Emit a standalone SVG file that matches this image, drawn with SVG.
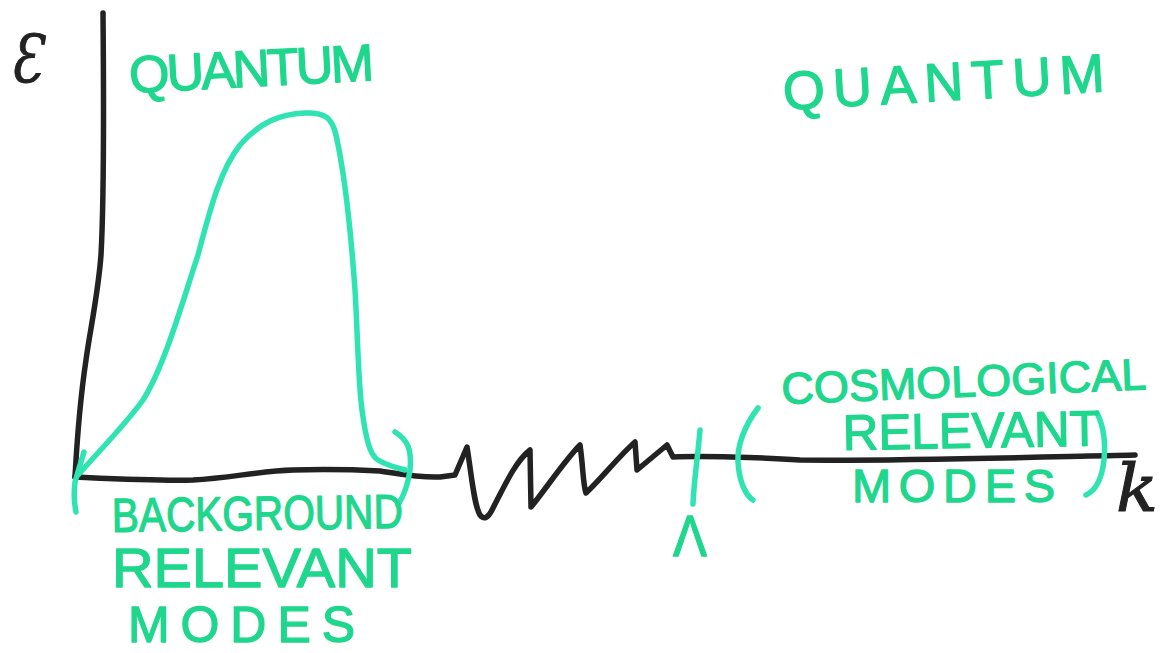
<svg xmlns="http://www.w3.org/2000/svg" width="1167" height="653" viewBox="0 0 1167 653">
  <style>
    .ink { fill: none; stroke: #222222; stroke-width: 5.5; stroke-linecap: round; stroke-linejoin: round; }
    .curve { fill: none; stroke: #30e3b3; stroke-width: 5.5; stroke-linecap: round; stroke-linejoin: round; }
    .lbl { font-family: "Liberation Sans", "Noto Sans", sans-serif; fill: #1fd68d; stroke: #1fd68d; stroke-width: 1.3; stroke-linejoin: round; }
    .blk { font-family: "DejaVu Serif", "Liberation Serif", serif; font-style: italic; fill: #222222; stroke: #222222; stroke-width: 1; }
  </style>
  <rect width="1167" height="653" fill="#ffffff"/>

  <g id="connectors">
    <path id="y-axis" class="ink" d="M103,13 C104,120 104,200 101,255 C98,295 90,330 86,360 C80,400 77,440 75,477"/>
    <path id="x-axis" class="ink" d="M75,477 C120,479 160,481 193,480 C230,478 260,471 293,470 C330,469 360,470 380,471 C400,474 420,478 440,477 L455,475 L467,447 C472,478 474,505 480,515 C484,520 488,518 492,510 C505,485 515,462 530,450 L531,507 C545,490 565,460 580,445 C583,465 583,485 586,493 C600,480 620,455 635,442 L637,470 L667,445 L673,457 C700,456 760,457 800,460 C900,461 1000,458 1135,455"/>
  </g>

  <g id="spectrum">
    <path class="curve" d="M78,475 C100,450 125,425 143,400 C165,365 183,300 198,255 C210,210 220,170 240,145 C260,122 280,114 305,113 C325,112 332,118 336,135 C345,175 350,220 355,290 C358,340 358,380 362,410 C366,440 370,455 378,460 C388,466 398,468 405,470"/>
  </g>

  <g id="background-bracket">
    <path class="curve" d="M84,452 Q79,468 75,482 Q73,498 76,512"/>
    <path class="curve" d="M395,432 C408,440 412,450 410,470 C408,485 403,497 398,505"/>
  </g>

  <g id="cosmo-bracket">
    <path class="curve" d="M758,408 C745,425 737,445 738,462 C739,480 745,495 753,500"/>
    <path class="curve" d="M1097,413 C1103,425 1106,440 1104,460 C1102,478 1097,490 1086,495"/>
  </g>

  <g id="cutoff">
    <path class="curve" d="M700,430 C698,455 694,480 693,504" stroke="#22d894"/>
    <text class="lbl" x="673" y="556" font-size="58" textLength="34" lengthAdjust="spacingAndGlyphs">Λ</text>
  </g>

  <g id="axis-labels">
    <text class="blk" x="10" y="82" font-size="66" textLength="32" lengthAdjust="spacingAndGlyphs">Ɛ</text>
    <text class="blk" x="1116" y="511" font-size="66" textLength="42" lengthAdjust="spacingAndGlyphs">k</text>
  </g>

  <g id="quantum-left">
    <text class="lbl" x="130" y="93" font-size="52" textLength="245" lengthAdjust="spacing" transform="rotate(-3 130 93)">QUANTUM</text>
  </g>

  <g id="quantum-right">
    <text class="lbl" x="784" y="110" font-size="54" textLength="322" lengthAdjust="spacing" transform="rotate(-3.3 784 110)">QUANTUM</text>
  </g>

  <g id="background-label">
    <text class="lbl" x="112" y="532" font-size="48" textLength="291" lengthAdjust="spacingAndGlyphs" transform="rotate(-0.8 112 532)">BACKGROUND</text>
    <text class="lbl" x="112" y="587" font-size="55" textLength="300" lengthAdjust="spacingAndGlyphs">RELEVANT</text>
    <text class="lbl" x="128" y="642" font-size="50" textLength="227" lengthAdjust="spacing">MODES</text>
  </g>

  <g id="cosmological-label">
    <text class="lbl" x="782" y="404" font-size="44" textLength="365" lengthAdjust="spacingAndGlyphs" transform="rotate(-2.3 782 404)">COSMOLOGICAL</text>
    <text class="lbl" x="843" y="450" font-size="50" textLength="257" lengthAdjust="spacingAndGlyphs" transform="rotate(-1 843 450)">RELEVANT</text>
    <text class="lbl" x="852" y="502" font-size="47" textLength="203" lengthAdjust="spacing">MODES</text>
  </g>
</svg>
